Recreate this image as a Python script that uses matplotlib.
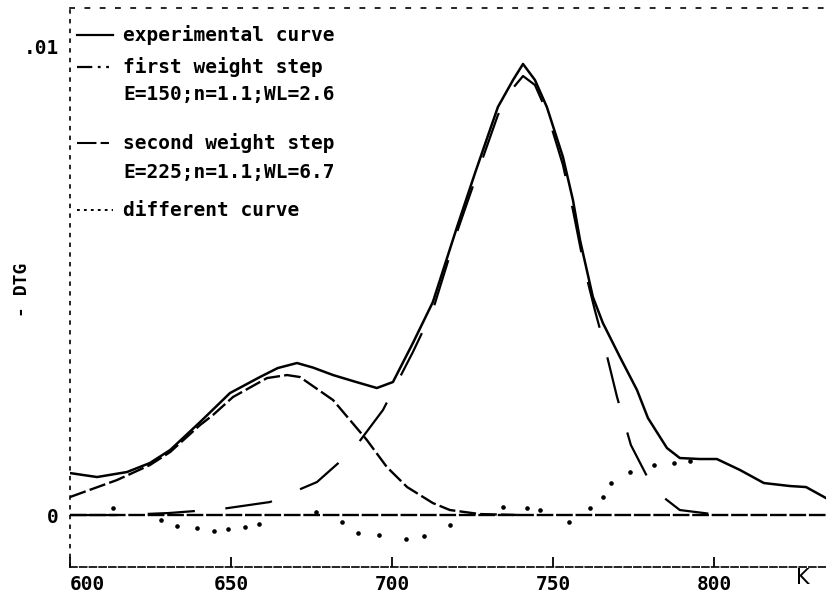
import numpy as np
import matplotlib
matplotlib.use('Agg')
import matplotlib.pyplot as plt

plt.rcParams['lines.scale_dashes'] = False

# temperature (K) and -DTG values (values in units of 1e-3)
exp_t = [600.0, 608.4, 617.7, 624.8, 631.1, 640.4, 649.7, 659.0, 664.5, 670.5, 675.5, 681.7,
         688.5, 695.3, 700.3, 706.5, 712.7, 720.2, 725.8, 732.9, 737.6, 740.7, 744.4,
         748.1, 753.1, 756.2, 758.4, 762.4, 765.5, 770.8, 776.1, 779.5, 785.4,
         789.4, 795.6, 800.9, 808.1, 815.5, 823.6, 828.6, 834.8]
exp_v = [0.897, 0.812, 0.919, 1.111, 1.389, 1.987, 2.607, 2.949, 3.140, 3.248, 3.150, 2.991,
         2.850, 2.714, 2.842, 3.675, 4.551, 6.154, 7.308, 8.718, 9.295, 9.637, 9.295,
         8.718, 7.650, 6.731, 5.876, 4.658, 4.103, 3.376, 2.671, 2.073, 1.432,
         1.218, 1.197, 1.197, 0.962, 0.684, 0.620, 0.598, 0.363]

step1_t = [600.0, 614.6, 624.8, 631.1, 640.4, 644.4, 650.6, 661.2, 667.4, 671.4,
           681.7, 692.2, 698.4, 704.7, 712.7, 718.0, 727.3, 739.8]
step1_v = [0.385, 0.748, 1.068, 1.346, 1.923, 2.137, 2.521, 2.927, 2.991, 2.949,
           2.457, 1.603, 1.026, 0.598, 0.256, 0.107, 0.021, 0.0]

step2_t = [600.0, 615.5, 630.7, 646.9, 662.1, 676.7, 687.9, 697.2, 706.5, 712.7,
           720.2, 725.8, 732.9, 737.6, 740.7, 744.4, 748.1, 753.1, 756.2, 759.9,
           763.0, 766.1, 769.9, 774.2, 781.4, 789.4, 801.9]
step2_v = [0.0, 0.0, 0.043, 0.128, 0.278, 0.705, 1.389, 2.244, 3.483, 4.380,
           6.047, 7.158, 8.547, 9.124, 9.380, 9.188, 8.611, 7.479, 6.517, 5.235,
           4.380, 3.590, 2.521, 1.496, 0.534, 0.107, 0.0]

diff_t = [613.4, 628.3, 633.2, 639.4, 644.7, 649.1, 654.3, 658.7, 676.4, 684.5,
          689.4, 695.9, 704.3, 709.9, 718.0, 734.5, 741.9, 746.0, 755.0, 761.5,
          765.5, 768.0, 773.9, 781.4, 787.6, 792.5]
diff_v = [0.150, -0.107, -0.235, -0.278, -0.342, -0.299, -0.256, -0.192, 0.064, -0.150,
          -0.385, -0.427, -0.513, -0.449, -0.214, 0.171, 0.150, 0.107, -0.150, 0.150,
          0.385, 0.684, 0.919, 1.068, 1.111, 1.154]

x_ticks = [600, 650, 700, 750, 800]
y_ticks = [0, 0.01]
y_labels = ['0', '.01']

legend_rows = ['experimental curve', 'first weight step', 'E=150;n=1.1;WL=2.6',
               'second weight step', 'E=225;n=1.1;WL=6.7', 'different curve']

mono = 'DejaVu Sans Mono'

fig = plt.figure(figsize=(8.26, 5.99), dpi=100)
ax = fig.add_axes([70/826, 1-567/599, 756/826, 559/599])

sc = 1e-3
ax.axhline(0, color='black', lw=1.7, dashes=(12, 2))
ax.plot(exp_t, np.array(exp_v)*sc, color='black', lw=1.8)
ax.plot(step1_t, np.array(step1_v)*sc, color='black', lw=1.7, dashes=(12, 3))
ax.plot(step2_t, np.array(step2_v)*sc, color='black', lw=1.6, dashes=(34, 22))
ax.plot(diff_t, np.array(diff_v)*sc, 'o', color='black', ms=2.3)

ax.set_xlim(600, 834.8)
ax.set_ylim(-0.00111, 0.010833)

ax.set_xticks(x_ticks)
ax.set_xticklabels([str(v) for v in x_ticks], fontfamily=mono, fontweight='bold', fontsize=14)
ax.get_xticklabels()[0].set_horizontalalignment('left')
ax.set_yticks(y_ticks)
ax.set_yticklabels(y_labels, fontfamily=mono, fontweight='bold', fontsize=14)
ax.tick_params(axis='x', direction='in', length=7, width=1.3, pad=6)
ax.tick_params(axis='y', length=0, pad=8)

ax.spines['right'].set_visible(False)
ax.spines['top'].set_linestyle((0, (3, 8)))
ax.spines['left'].set_linestyle((0, (2, 5)))
ax.spines['bottom'].set_linestyle((0, (5, 2)))
for s in ['top', 'left', 'bottom']:
    ax.spines[s].set_linewidth(1.2)

# hand drawn legend as in the original print-out
ys = [0.9517, 0.8945, 0.8444, 0.7585, 0.7066, 0.6386]
tf = ax.transAxes
ax.plot([0.009, 0.057], [ys[0]]*2, transform=tf, color='black', lw=1.6)
ax.plot([0.009, 0.057], [ys[1]]*2, transform=tf, color='black', lw=1.6, dashes=(11, 4, 2, 4, 2, 4))
ax.plot([0.009, 0.057], [ys[3]]*2, transform=tf, color='black', lw=1.5, dashes=(14, 3, 6, 3))
ax.plot([0.009, 0.057], [ys[5]]*2, transform=tf, color='black', lw=1.4, dashes=(2, 3))
for y, txt in zip(ys, legend_rows):
    ax.text(0.0701, y, txt, transform=tf, fontfamily=mono, fontweight='bold',
            fontsize=14, va='center', ha='left')

ax.text(0.9696, -0.02, 'K', transform=tf, fontsize=15, va='center', ha='center')
fig.text(22/826, 1-290/599, '- DTG', rotation=90, fontfamily=mono, fontweight='bold',
         fontsize=13, va='center', ha='center')

fig.savefig('out.png', dpi=100)
